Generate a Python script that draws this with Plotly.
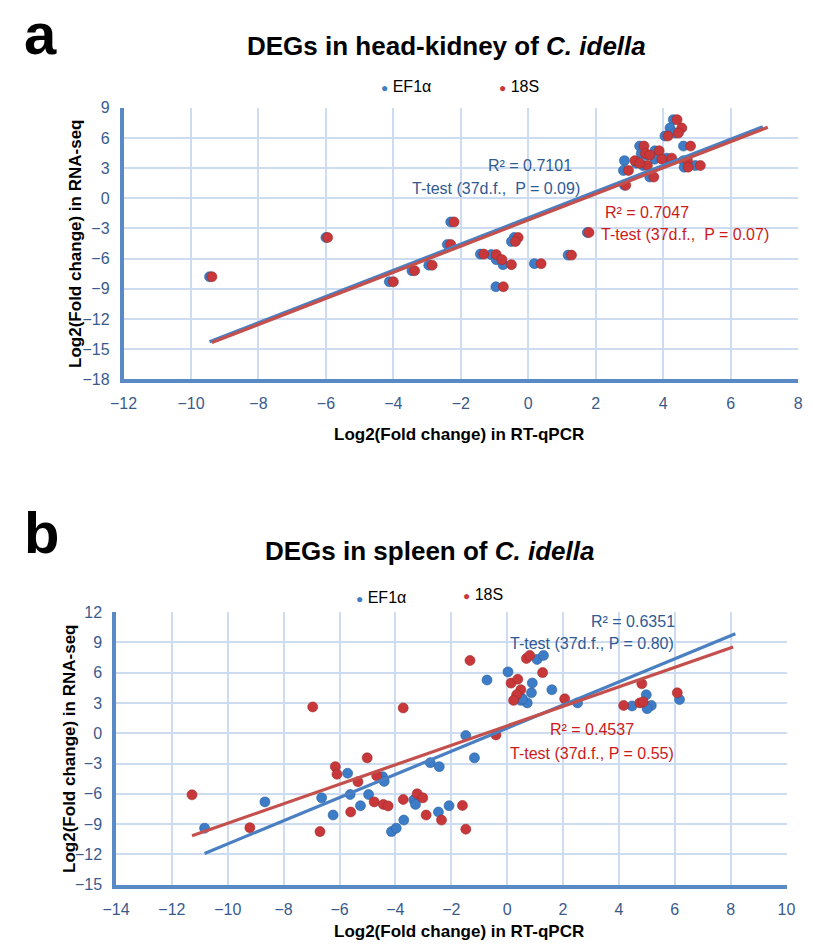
import plotly.graph_objects as go

# ---------------- Panel a: head-kidney ----------------
a_rnaseq = [-7.8, -3.9, -8.3, -7.2, -6.65, -4.6, -2.35, -5.55, -5.6, -6.1, -6.6, -3.9, -4.3,
            -6.5, -8.8, -5.65, -3.4,
            7.83, 7.0, 6.5, 6.2, 5.2, 5.2, 4.47, 4.73, 3.75, 3.26, 3.9, 2.77, 3.75, 3.1, 3.26,
            2.12, 1.3, 4.3, 3.5, 4.0]
a_qpcr_ef1a = [-9.45, -6.0, -4.12, -3.45, -2.95, -2.4, -2.3, -1.42, -1.1, -0.95, -0.75, -0.42, -0.5,
               0.18, -0.96, 1.18, 1.75,
               4.3, 4.2, 4.35, 4.05, 4.6, 3.3, 3.35, 3.75, 2.85, 3.4, 3.75, 2.82, 4.6, 4.62, 4.95,
               3.6, 2.85, 3.5, 3.2, 4.1]
a_qpcr_18s = [-9.38, -5.95, -4.0, -3.37, -2.85, -2.3, -2.2, -1.32, -0.95, -0.78, -0.5, -0.3, -0.38,
              0.38, -0.74, 1.28, 1.8,
              4.41, 4.55, 4.45, 4.14, 4.81, 3.43, 3.47, 3.88, 3.16, 3.53, 3.96, 2.97, 4.72, 4.74, 5.1,
              3.72, 2.89, 3.6, 3.3, 4.25]

# ---------------- Panel b: spleen ----------------
b_qpcr_ef1a = [-10.83, -8.67, -6.64, -6.23, -5.71, -5.62, -5.25, -4.96, -4.46, -4.4, -4.14, -3.97,
               -3.7, -3.34, -3.28, -2.75, -2.43, -2.46, -2.08, -1.48, -1.17, -0.72, 0.03, 1.07, 1.3,
               0.9, 0.87, 1.6, 0.72, 0.49, 2.52, 4.47, 4.98, 5.16, 5.01, 6.17, 0.55]
b_rnaseq_ef1a = [-9.4, -6.8, -6.4, -8.1, -3.96, -6.07, -7.18, -6.07, -4.3, -4.77, -9.74, -9.4,
                 -8.6, -6.6, -7.05, -2.92, -3.31, -7.8, -7.18, -0.23, -2.44, 5.26, 6.07, 7.3, 7.7,
                 4.97, 4.0, 4.3, 3.0, 3.25, 3.0, 2.7, 3.8, 2.75, 2.43, 3.33, 3.4]
b_qpcr_18s = [-11.28, -6.96, -3.72, -9.21, -6.7, -6.15, -6.09, -5.01, -5.34, -4.67, -5.6, -4.76,
              -4.43, -4.26, -3.72, -3.22, -3.02, -2.9, -2.35, -1.6, -1.48, -1.33, -0.4, 0.69, 0.81,
              1.27, 0.14, 0.38, 0.49, 0.34, 0.23, 2.06, 4.17, 4.75, 4.87, 4.82, 6.09]
b_rnaseq_18s = [-6.1, 2.6, 2.5, -9.35, -9.74, -3.31, -4.06, -2.44, -4.8, -4.22, -7.8, -6.8,
                -7.05, -7.2, -6.56, -6.0, -6.4, -8.1, -8.6, -7.15, -9.5, 7.2, -0.17, 7.4, 7.7,
                6.0, 4.96, 5.35, 4.3, 3.8, 3.25, 3.4, 2.75, 3.0, 3.1, 4.9, 4.0]

# linear trend lines (slope, intercept); forecast forward 2 units
a_trend_ef1a = [1.305, -1.94]
a_trend_18s = [1.30, -2.16]
b_trend_ef1a = [1.145, 0.50]
b_trend_18s = [0.964, 0.73]
trend_forward = 2.0

series_names = ["EF1\u03b1", "18S"]
a_stats = ["R\u00b2 = 0.7101", "T-test (37d.f.,\u00a0\u00a0P = 0.09)",
           "R\u00b2 = 0.7047", "T-test (37d.f.,\u00a0\u00a0P = 0.07)"]
b_stats = ["R\u00b2 = 0.6351", "T-test (37d.f., P = 0.80)",
           "R\u00b2 = 0.4537", "T-test (37d.f., P = 0.55)"]
a_xticks = list(range(-12, 9, 2))
a_yticks = list(range(-18, 10, 3))
b_xticks = list(range(-14, 11, 2))
b_yticks = list(range(-15, 13, 3))

# ---------------- styles ----------------
FONT = "Liberation Sans, Arial, Helvetica, sans-serif"
BLUE_PT = "#3d7cc6"
RED_PT = "#c8383a"
BLUE_LINE = "#4a7fc1"
RED_LINE = "#c4504d"
BLUE_TXT = "#2f5a94"
RED_TXT = "#cc1a1a"
TICK = "#3b5a8c"
GRID = "#cddcf0"
AXIS = "#5a8ac6"
W, H = 813, 950


def trend(xs, coef):
    x0, x1 = min(xs), max(xs) + trend_forward
    return [x0, x1], [coef[0] * x0 + coef[1], coef[0] * x1 + coef[1]]


fig = go.Figure()

panels = [
    ("x", "y", a_qpcr_ef1a, a_rnaseq, a_qpcr_18s, a_rnaseq, a_trend_ef1a, a_trend_18s),
    ("x2", "y2", b_qpcr_ef1a, b_rnaseq_ef1a, b_qpcr_18s, b_rnaseq_18s, b_trend_ef1a, b_trend_18s),
]
for xa, ya, xe, ye, xr, yr, te, tr in panels:
    fig.add_trace(go.Scatter(x=xe, y=ye, mode="markers", xaxis=xa, yaxis=ya, name=series_names[0],
                             marker=dict(color=BLUE_PT, size=10, line=dict(width=0.6, color="#2c5f9e")),
                             showlegend=False))
    fig.add_trace(go.Scatter(x=xr, y=yr, mode="markers", xaxis=xa, yaxis=ya, name=series_names[1],
                             marker=dict(color=RED_PT, size=10, line=dict(width=0.6, color="#9e2a2a")),
                             showlegend=False))
    lx, ly = trend(xe, te)
    fig.add_trace(go.Scatter(x=lx, y=ly, mode="lines", xaxis=xa, yaxis=ya,
                             line=dict(color=BLUE_LINE, width=3.2), showlegend=False))
    lx, ly = trend(xr, tr)
    fig.add_trace(go.Scatter(x=lx, y=ly, mode="lines", xaxis=xa, yaxis=ya,
                             line=dict(color=RED_LINE, width=3.2), showlegend=False))

axis_common = dict(showgrid=True, gridcolor=GRID, gridwidth=2.2, zeroline=False,
                   showline=True, linecolor=AXIS, linewidth=3.5, ticks="",
                   tickfont=dict(family=FONT, size=16, color=TICK), ticklabelstandoff=7)

fig.update_layout(
    width=W, height=H, margin=dict(l=0, r=0, t=0, b=0),
    paper_bgcolor="white", plot_bgcolor="white", showlegend=False,
    font=dict(family=FONT),
    xaxis=dict(domain=[112.7 / W, 807 / W], range=[-12, 8], tickvals=a_xticks, anchor="y", **axis_common),
    yaxis=dict(domain=[1 - 378 / H, 1 - 101.7 / H], range=[-18, 9], tickvals=a_yticks, anchor="x", **axis_common),
    xaxis2=dict(domain=[105 / W, 795 / W], range=[-14, 10], tickvals=b_xticks, anchor="y2", **axis_common),
    yaxis2=dict(domain=[1 - 892.7 / H, 1 - 615 / H], range=[-15, 12], tickvals=b_yticks, anchor="x2", **axis_common),
)

ann = []


def paper_text(text, x, y, size, xanchor="center", yanchor="middle", angle=0, color="black"):
    ann.append(dict(text=text, x=x / W, y=1 - y / H, xref="paper", yref="paper", showarrow=False,
                    xanchor=xanchor, yanchor=yanchor, textangle=angle,
                    font=dict(family=FONT, size=size, color=color)))


# panel letters and titles
paper_text("<b>a</b>", 8, 26, 58, xanchor="left")
paper_text("<b>b</b>", 8, 534, 58, xanchor="left")
paper_text("<b>DEGs in head-kidney of <i>C. idella</i></b>", 445, 39, 26)
paper_text("<b>DEGs in spleen of <i>C. idella</i></b>", 428, 553, 26)


# legends
def legend_item(name, color, x, y):
    paper_text("<span style='color:%s;font-size:12px'>\u25cf</span> %s" % (color, name), x, y, 16,
               xanchor="left")


legend_item(series_names[0], BLUE_PT, 376, 80)
legend_item(series_names[1], RED_PT, 497, 80)
legend_item(series_names[0], BLUE_PT, 350, 600)
legend_item(series_names[1], RED_PT, 460, 597)

# axis titles
paper_text("<b>Log2(Fold change) in RT-qPCR</b>", 458, 434, 17)
paper_text("<b>Log2(Fold change) in RT-qPCR</b>", 458, 940, 17)
paper_text("<b>Log2(Fold change) in RNA-seq</b>", 64, 240, 17, angle=-90)
paper_text("<b>Log2(Fold change) in RNA-seq</b>", 57, 754, 17, angle=-90)


def data_text(text, xa, ya, x, y, color, xanchor):
    ann.append(dict(text=text, x=x, y=y, xref=xa, yref=ya, showarrow=False, xanchor=xanchor,
                    yanchor="middle", font=dict(family=FONT, size=16, color=color)))


data_text(a_stats[0], "x", "y", 1.35, 3.23, BLUE_TXT, "right")
data_text(a_stats[1], "x", "y", 1.58, 0.98, BLUE_TXT, "right")
data_text(a_stats[2], "x", "y", 2.21, -1.37, RED_TXT, "left")
data_text(a_stats[3], "x", "y", 2.1, -3.62, RED_TXT, "left")
data_text(b_stats[0], "x2", "y2", 6.07, 11.03, BLUE_TXT, "right")
data_text(b_stats[1], "x2", "y2", 6.03, 8.89, BLUE_TXT, "right")
data_text(b_stats[2], "x2", "y2", 3.04, 0.32, RED_TXT, "center")
data_text(b_stats[3], "x2", "y2", 3.04, -2.0, RED_TXT, "center")

fig.update_layout(annotations=ann)
fig.write_html("out.html", config={"displayModeBar": False},
               post_script="document.body.style.margin='0';document.body.style.overflow='hidden';")
